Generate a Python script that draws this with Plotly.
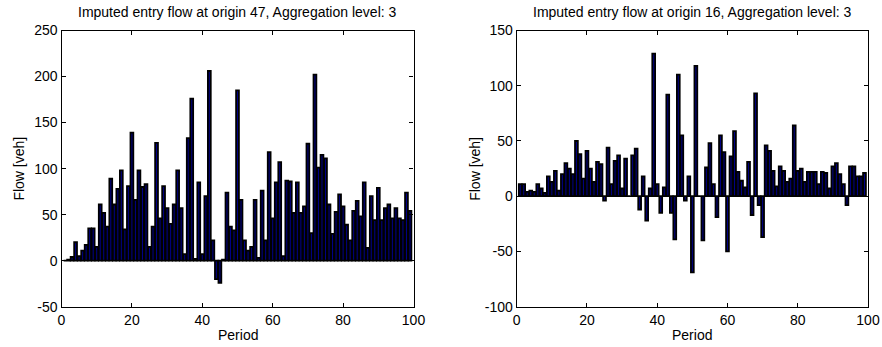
import plotly.graph_objects as go

# Imputed entry flows per aggregated period (aggregation level 3)
periods = list(range(1, 100))

flow_origin_47 = [
    0, 1, 4, 20, 5, 11, 17, 35, 35, 15,
    61, 52, 37, 89, 61, 78, 98, 34, 81, 139,
    66, 98, 80, 83, 15, 37, 128, 46, 81, 57,
    40, 61, 98, 57, 7, 133, 176, 2, 85, 7,
    70, 206, 22, -20, -24, 1, 74, 37, 33, 185,
    66, 22, 11, 15, 66, 3, 76, 22, 118, 46,
    85, 107, 5, 87, 86, 52, 85, 52, 59, 127,
    30, 202, 101, 115, 111, 61, 29, 53, 72, 59,
    39, 22, 54, 65, 48, 85, 14, 70, 44, 79,
    44, 57, 61, 46, 57, 46, 44, 74, 54,
]

flow_origin_16 = [
    11, 11, 4, 5, 4, 11, 7, 3, 18, 13,
    23, 5, 20, 30, 25, 20, 50, 38, 16, 41,
    25, 13, 31, 29, -4, 44, 11, 32, 37, 7,
    34, 0, 37, 43, -12, 18, -22, 7, 129, 11,
    -15, 8, 92, -15, -39, 110, 55, -4, 18, -69,
    118, 0, -40, 26, 48, 11, -19, 55, 40, -50,
    36, 59, 22, 14, 8, 31, -17, 93, -8, -37,
    46, 41, 23, 9, 27, 23, 13, 16, 64, 23,
    25, 13, 22, 22, 22, 11, 22, 21, 7, 27,
    30, 20, 11, -8, 27, 27, 18, 18, 21,
]

titles = [
    "Imputed entry flow at origin 47, Aggregation level: 3",
    "Imputed entry flow at origin 16, Aggregation level: 3",
]
x_ticks = [0, 20, 40, 60, 80, 100]
y_ticks_47 = [-50, 0, 50, 100, 150, 200, 250]
y_ticks_16 = [-100, -50, 0, 50, 100, 150]

W, H = 882, 347
FONT = "Liberation Sans, Arial, Helvetica, sans-serif"
FS = 14
BAR_FILL = "rgb(0,0,135)"


def labels(vals):
    # plain hyphen-minus for negative tick labels
    return [str(v) for v in vals]


fig = go.Figure()
for i, vals in enumerate([flow_origin_47, flow_origin_16]):
    sfx = "" if i == 0 else "2"
    fig.add_trace(go.Bar(
        x=periods, y=vals, width=0.8,
        marker=dict(color=BAR_FILL, line=dict(color="black", width=1.8)),
        xaxis="x" + sfx, yaxis="y" + sfx, showlegend=False,
    ))

# plot-area boxes in pixels
left_box = (61.5, 413.5)
right_box = (516.7, 868.0)
top_px, bot_px = 30.5, 306.7
y_dom = [1 - bot_px / H, 1 - top_px / H]

axis_common = dict(
    showline=True, linecolor="black", linewidth=1.3, mirror="ticks",
    ticks="inside", ticklen=4, tickcolor="black", tickwidth=1,
    showgrid=False, automargin=False,
    tickfont=dict(family=FONT, size=FS, color="black"),
)

fig.update_layout(
    template="none",
    width=W, height=H, margin=dict(l=0, r=0, t=0, b=0, pad=0, autoexpand=False),
    paper_bgcolor="white", plot_bgcolor="white", bargap=0.2,
    font=dict(family=FONT, size=FS, color="black"),
    xaxis=dict(domain=[left_box[0] / W, left_box[1] / W], range=[0, 100],
               tickvals=x_ticks, ticktext=labels(x_ticks), anchor="y",
               zeroline=False, **axis_common),
    yaxis=dict(domain=y_dom, range=[-50, 250], tickvals=y_ticks_47,
               ticktext=labels(y_ticks_47), anchor="x", zeroline=True,
               zerolinecolor="black", zerolinewidth=1, **axis_common),
    xaxis2=dict(domain=[right_box[0] / W, right_box[1] / W], range=[0, 100],
                tickvals=x_ticks, ticktext=labels(x_ticks), anchor="y2",
                zeroline=False, **axis_common),
    yaxis2=dict(domain=y_dom, range=[-100, 150], tickvals=y_ticks_16,
                ticktext=labels(y_ticks_16), anchor="x2", zeroline=True,
                zerolinecolor="black", zerolinewidth=1, **axis_common),
)

ann_font = dict(family=FONT, size=FS, color="black")
for box, title in zip([left_box, right_box], titles):
    cx = (box[0] + box[1]) / 2 / W
    fig.add_annotation(text=title, x=cx, y=1 - 12.5 / H, xref="paper", yref="paper",
                       showarrow=False, font=ann_font, xanchor="center", yanchor="middle")
    fig.add_annotation(text="Period", x=cx, y=1 - 335 / H, xref="paper", yref="paper",
                       showarrow=False, font=ann_font, xanchor="center", yanchor="middle")
    fig.add_annotation(text="Flow [veh]", x=(box[0] - 42.5) / W,
                       y=1 - (top_px + bot_px) / 2 / H, xref="paper", yref="paper",
                       showarrow=False, font=ann_font, textangle=-90,
                       xanchor="center", yanchor="middle")

# remove the default page margin so the figure sits at the top-left corner
page_css = "document.body.style.margin='0';document.body.style.overflow='hidden';"
fig.write_html("out.html", post_script=page_css)
